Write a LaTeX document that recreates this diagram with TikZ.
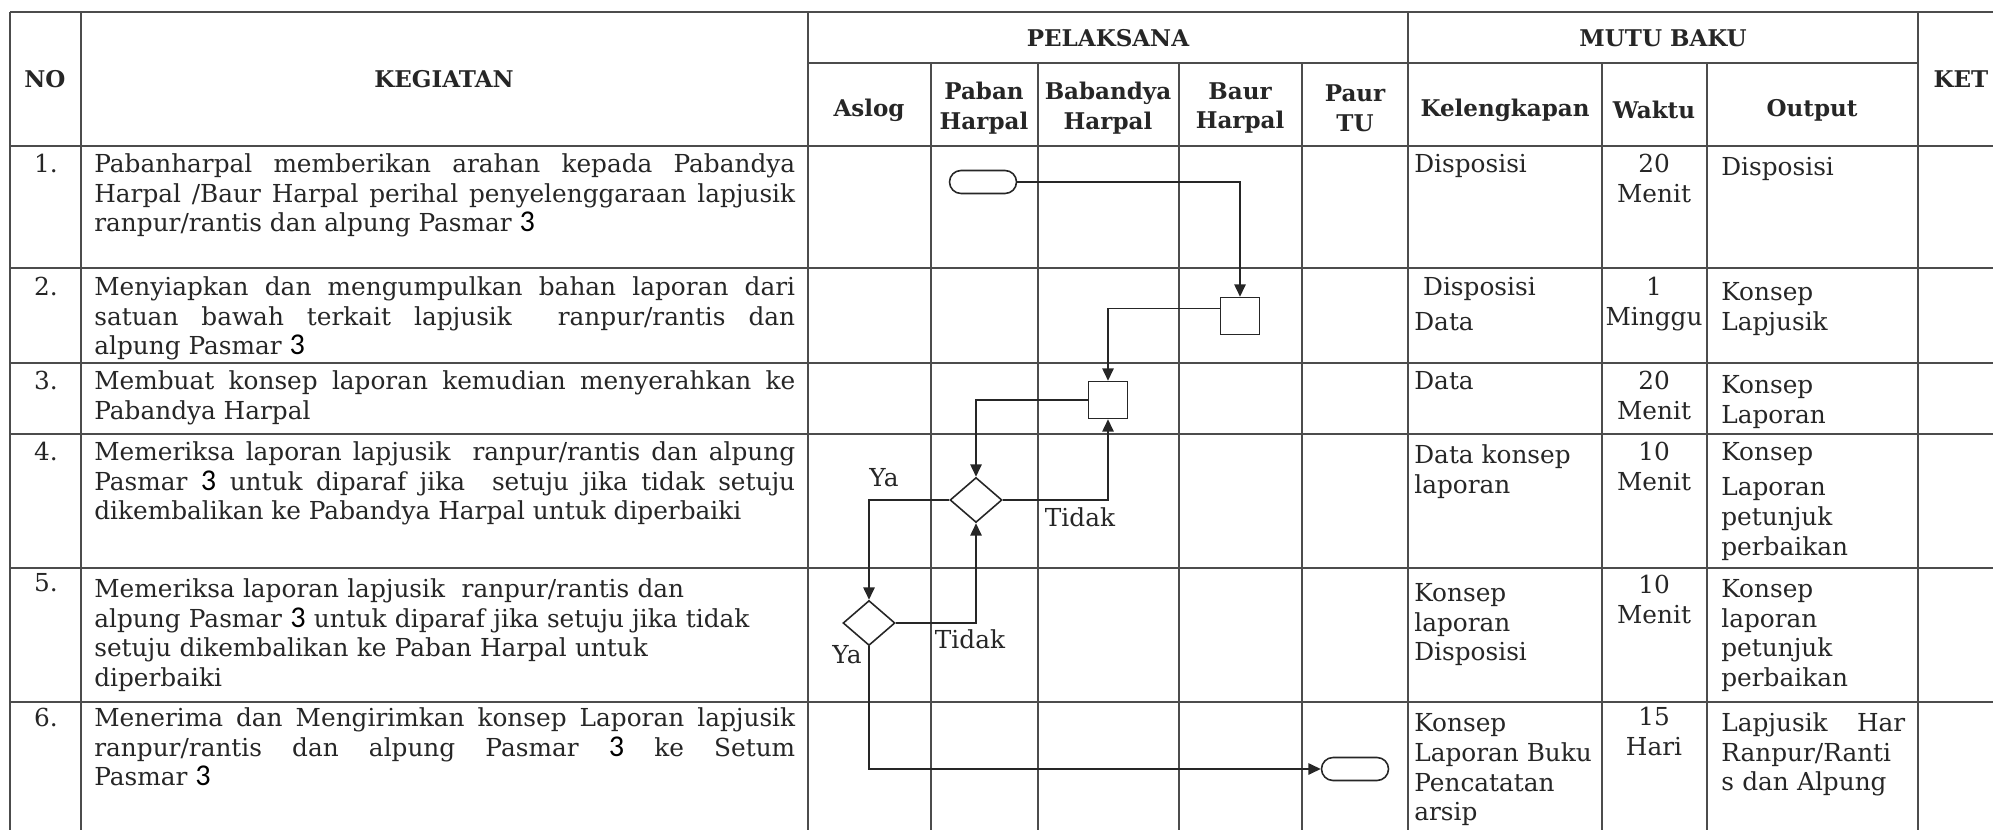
\documentclass[tikz,border=0pt]{standalone}
\usepackage{fontspec}
\setmainfont{DejaVu Serif}
\newfontfamily\digitfont[Scale=1.22]{Carlito}
\usetikzlibrary{arrows.meta,shapes.geometric}

\newcommand{\bodysize}{\fontsize{14.1pt}{17pt}\selectfont}
\newcommand{\headsize}{\fontsize{13.1pt}{17pt}\selectfont\bfseries}
\newcommand{\tiga}{{\digitfont\color{black}3}}

\tikzset{
  tabline/.style={draw=black!70, line width=0.9pt},
  headtxt/.style={font=\headsize, align=center, inner sep=0pt},
  nocell/.style={anchor=north, inner sep=0pt},
  kegcell/.style={anchor=north west, inner sep=0pt, text width=14.02cm, align=justify},
  mutucell/.style={anchor=north west, inner sep=0pt, align=left},
  waktucell/.style={anchor=north, inner sep=0pt, align=center},
  term/.style={draw=black!85, line width=0.9pt, rounded corners=0.23cm,
    minimum width=1.34cm, minimum height=0.46cm, inner sep=0pt},
  proc/.style={draw=black!85, line width=0.9pt, minimum width=0.78cm,
    minimum height=0.74cm, inner sep=0pt},
  dec/.style={draw=black!85, line width=0.9pt, diamond, minimum width=1.04cm,
    minimum height=0.9cm, inner sep=0pt},
  flow/.style={draw=black!85, line width=0.75pt, -{Triangle[length=7pt,width=6.5pt]}},
  flowtxt/.style={inner sep=0pt},
}

\begin{document}
\begin{tikzpicture}[x=0.02cm, y=-0.02cm, font=\bodysize, text=black!85]
    \useasboundingbox (0,0) rectangle (1993,830);

    % table rules
    \draw[tabline] (10,12) -- (1993,12);
    \draw[tabline] (808,63) -- (1918,63);
    \foreach \y in {146,268,363,434,568,702}
        \draw[tabline] (10,\y) -- (1993,\y);
    \foreach \x in {10,81,808,1408,1918}
        \draw[tabline] (\x,12) -- (\x,830);
    \foreach \x in {931,1038,1179,1302,1602,1707}
        \draw[tabline] (\x,63) -- (\x,830);

    % header
    \node[headtxt] (hno) at (45,79) {NO};
    \node[headtxt] (hkeg) at (444,79) {KEGIATAN};
    \node[headtxt] (hpel) at (1108,38) {PELAKSANA};
    \node[headtxt] (hmutu) at (1663,38) {MUTU BAKU};
    \node[headtxt] (hket) at (1961,79) {KET};
    \node[headtxt] (haslog) at (869,110) {Aslog};
    \node[headtxt] (hpaban) at (984,108) {Paban\\Harpal};
    \node[headtxt] (hbabandya) at (1108,108) {Babandya\\Harpal};
    \node[headtxt] (hbaur) at (1240,108) {Baur\\Harpal};
    \node[headtxt] (hpaur) at (1355,108) {Paur\\TU};
    \node[headtxt] (hkel) at (1505,110) {Kelengkapan};
    \node[headtxt] (hwaktu) at (1654,110) {Waktu};
    \node[headtxt] (houtput) at (1812,110) {Output};

    % nomor
    \node[nocell] (no1) at (46,151) {\strut 1.};
    \node[nocell] (no2) at (46,274) {\strut 2.};
    \node[nocell] (no3) at (46,368) {\strut 3.};
    \node[nocell] (no4) at (46,439) {\strut 4.};
    \node[nocell] (no5) at (46,570) {\strut 5.};
    \node[nocell] (no6) at (46,705) {\strut 6.};

    % kegiatan
    \node[kegcell] (keg1) at (94,151) {\strut Pabanharpal memberikan arahan kepada Pabandya\linebreak
        Harpal /Baur Harpal perihal penyelenggaraan lapjusik\linebreak
        ranpur/rantis dan alpung Pasmar \tiga};
    \node[kegcell] (keg2) at (94,274) {\strut Menyiapkan dan mengumpulkan bahan laporan dari\linebreak
        satuan bawah terkait lapjusik \ ranpur/rantis dan\linebreak
        alpung Pasmar \tiga};
    \node[kegcell] (keg3) at (94,368) {\strut Membuat konsep laporan kemudian menyerahkan ke\linebreak
        Pabandya Harpal};
    \node[kegcell] (keg4) at (94,439) {\strut Memeriksa laporan lapjusik \ ranpur/rantis dan alpung\linebreak
        Pasmar \tiga\ untuk diparaf jika \ setuju jika tidak setuju\linebreak
        dikembalikan ke Pabandya Harpal untuk diperbaiki};
    \node[kegcell, align=left] (keg5) at (94,576) {\strut Memeriksa laporan lapjusik \ ranpur/rantis dan\\
        alpung Pasmar \tiga\ untuk diparaf jika setuju jika tidak\\
        setuju dikembalikan ke Paban Harpal untuk\\
        diperbaiki};
    \node[kegcell] (keg6) at (94,705) {\strut Menerima dan Mengirimkan konsep Laporan lapjusik\linebreak
        ranpur/rantis dan alpung Pasmar \tiga \ ke Setum\linebreak
        Pasmar \tiga};

    % kelengkapan
    \node[mutucell] (kel1) at (1414,151) {\strut Disposisi};
    \node[mutucell] (kel2) at (1414,274) {\strut\hspace{5pt}Disposisi\\[3pt]Data};
    \node[mutucell] (kel3) at (1414,368) {\strut Data};
    \node[mutucell] (kel4) at (1414,442) {\strut Data konsep\\laporan};
    \node[mutucell] (kel5) at (1414,580) {\strut Konsep\\laporan\\Disposisi};
    \node[mutucell] (kel6) at (1414,710) {\strut Konsep\\Laporan Buku\\Pencatatan\\arsip};

    % waktu
    \node[waktucell] (w1) at (1654,151) {\strut 20\\Menit};
    \node[waktucell] (w2) at (1654,274) {\strut 1\\Minggu};
    \node[waktucell] (w3) at (1654,368) {\strut 20\\Menit};
    \node[waktucell] (w4) at (1654,439) {\strut 10\\Menit};
    \node[waktucell] (w5) at (1654,572) {\strut 10\\Menit};
    \node[waktucell] (w6) at (1654,704) {\strut 15\\Hari};

    % output
    \node[mutucell] (out1) at (1721,154) {\strut Disposisi};
    \node[mutucell] (out2) at (1721,279) {\strut Konsep\\Lapjusik};
    \node[mutucell] (out3) at (1721,372) {\strut Konsep\\Laporan};
    \node[mutucell] (out4) at (1721,439) {\strut Konsep\\[3pt]Laporan\\petunjuk\\perbaikan};
    \node[mutucell] (out5) at (1721,576) {\strut Konsep\\laporan\\petunjuk\\perbaikan};
    \node[mutucell, text width=3.68cm] (out6) at (1721,710) {\strut Lapjusik\hfill Har\\Ranpur/Ranti\\s dan Alpung};

    % flow
    \node[term] (t1) at (983,182) {};
    \node[proc] (b2) at (1240,316) {};
    \node[proc] (b3) at (1108,400) {};
    \node[dec] (d1) at (976,500) {};
    \node[dec] (d2) at (869,623) {};
    \node[term] (t2) at (1355,769) {};

    \draw[flow] (t1.east) -| (b2.north);
    \draw[flow] (b2.160) -| (b3.north);
    \draw[flow] (b3.west) -| (d1.north);
    \draw[flow] (d1.east) -| (b3.south);
    \draw[flow] (d1.west) -| (d2.north);
    \draw[flow] (d2.east) -| (d1.south);
    \draw[flow] (d2.south) |- (t2.west);

    \node[flowtxt] (ya1) at (884,478) {Ya};
    \node[flowtxt] (tidak1) at (1080,517) {Tidak};
    \node[flowtxt] (tidak2) at (970,639) {Tidak};
    \node[flowtxt] (ya2) at (847,655) {Ya};
\end{tikzpicture}
\end{document}
